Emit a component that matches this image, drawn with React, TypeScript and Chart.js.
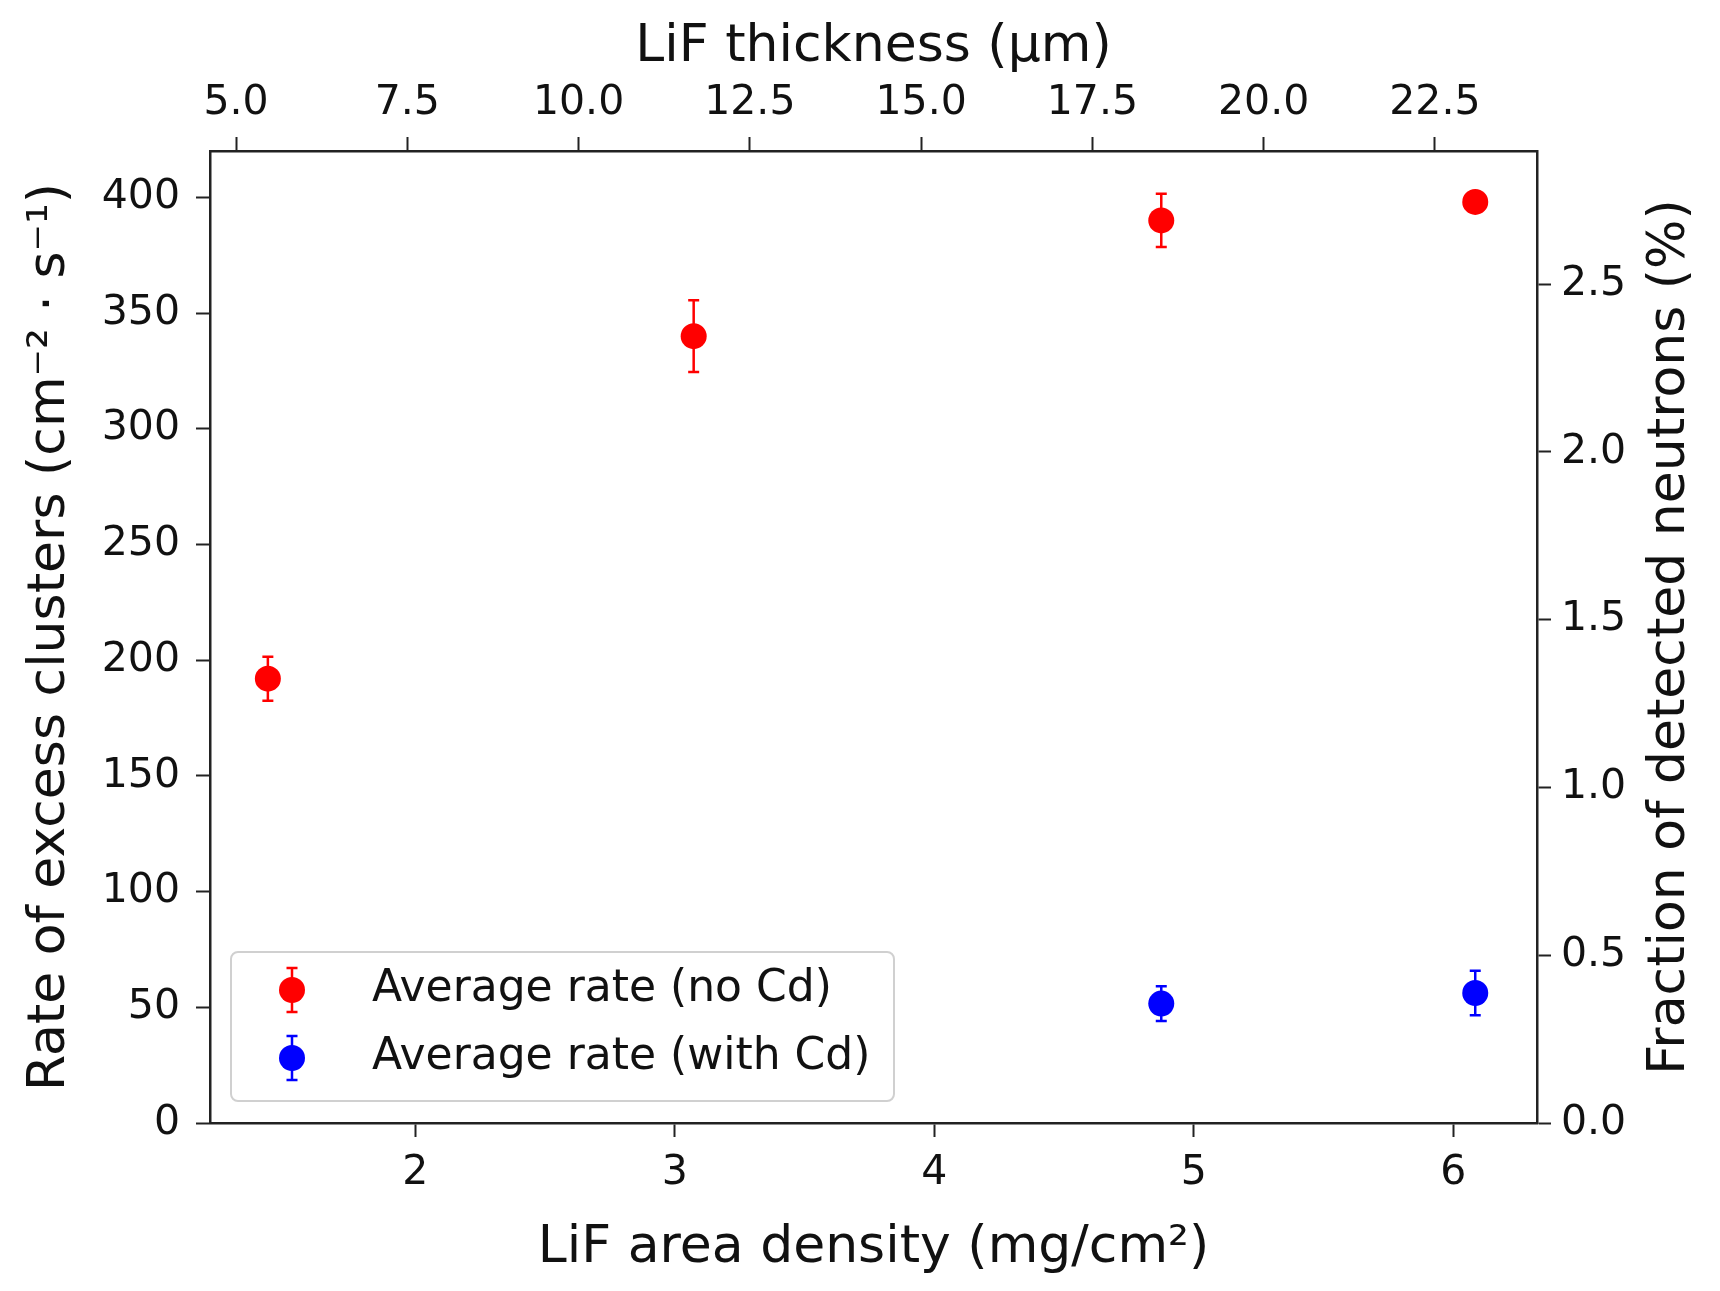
import { useEffect, useRef } from "react"
import { Chart, registerables } from "chart.js"

// Register Chart.js components
Chart.register(...registerables)

const FONT = "'DejaVu Sans', sans-serif"
const TEXT = "#111111"
const AXIS = "#222222"

// LiF area density (mg/cm2) of the four samples
const densities = [1.432, 3.073, 4.875, 6.085]
// Average rate without Cd (cm-2 s-1) and its error
const rateNoCd = [192, 340, 390, 398]
const errNoCd = [9.5, 15.5, 11.5, 0]
// Average rate with Cd, only the two thickest samples
const densitiesCd = [4.875, 6.085]
const rateCd = [51.6, 56.2]
const errCd = [7.5, 9.6]

const seriesLabels = ["Average rate (no Cd)", "Average rate (with Cd)"]
const seriesColors = ["#ff0000", "#0000ff"]

// Axis ranges and ticks
const densityRange = [1.209, 6.323]
const thicknessRange = [4.62, 23.99]
const rateMax = 420
const ratePerPercent = 145
const densityTicks = [2, 3, 4, 5, 6]
const thicknessTicks = [5, 7.5, 10, 12.5, 15, 17.5, 20, 22.5]
const rateTicks = [0, 50, 100, 150, 200, 250, 300, 350, 400]
const fractionTicks = [0, 0.5, 1, 1.5, 2, 2.5]

const errorSets = [errNoCd, errCd]

// Error bars drawn under the markers
const errorBars = {
  id: "errorBars",
  beforeDatasetsDraw(chart: any) {
    const { ctx } = chart
    const xs = chart.scales.x
    const ys = chart.scales.y
    chart.data.datasets.forEach((ds: any, i: number) => {
      const errs = errorSets[i]
      ds.data.forEach((p: any, j: number) => {
        const e = errs[j]
        if (!e) return
        const px = xs.getPixelForValue(p.x)
        const top = ys.getPixelForValue(p.y + e)
        const bot = ys.getPixelForValue(p.y - e)
        ctx.save()
        ctx.strokeStyle = seriesColors[i]
        ctx.lineWidth = 2.5
        ctx.beginPath()
        ctx.moveTo(px, top)
        ctx.lineTo(px, bot)
        ctx.moveTo(px - 5.5, top)
        ctx.lineTo(px + 5.5, top)
        ctx.moveTo(px - 5.5, bot)
        ctx.lineTo(px + 5.5, bot)
        ctx.stroke()
        ctx.restore()
      })
    })
  },
}

// Legend box in the lower left and the right axis title (reads bottom to top)
const extras = {
  id: "extras",
  afterDraw(chart: any) {
    const { ctx, chartArea } = chart
    ctx.save()

    // legend frame
    ctx.beginPath()
    ctx.roundRect(231, 952, 663, 149, 7)
    ctx.fillStyle = "rgba(255,255,255,0.8)"
    ctx.fill()
    ctx.strokeStyle = "#d0d0d0"
    ctx.lineWidth = 2
    ctx.stroke()

    seriesLabels.forEach((label, i) => {
      const cy = 990 + i * 68
      const cx = 292
      ctx.strokeStyle = seriesColors[i]
      ctx.lineWidth = 2.5
      ctx.beginPath()
      ctx.moveTo(cx, cy - 22)
      ctx.lineTo(cx, cy + 22)
      ctx.moveTo(cx - 5.5, cy - 22)
      ctx.lineTo(cx + 5.5, cy - 22)
      ctx.moveTo(cx - 5.5, cy + 22)
      ctx.lineTo(cx + 5.5, cy + 22)
      ctx.stroke()
      ctx.fillStyle = seriesColors[i]
      ctx.beginPath()
      ctx.arc(cx, cy, 13, 0, Math.PI * 2)
      ctx.fill()
      ctx.fillStyle = TEXT
      ctx.font = `44px ${FONT}`
      ctx.textAlign = "left"
      ctx.textBaseline = "middle"
      ctx.fillText(label, 372, cy)
    })

    // right axis title
    ctx.translate(1670, (chartArea.top + chartArea.bottom) / 2)
    ctx.rotate(-Math.PI / 2)
    ctx.fillStyle = TEXT
    ctx.font = `52px ${FONT}`
    ctx.textAlign = "center"
    ctx.textBaseline = "middle"
    ctx.fillText("Fraction of detected neutrons (%)", 0, 0)
    ctx.restore()
  },
}

function axisStyle(padding: number, values: number[], digits: number) {
  return {
    bounds: "data",
    afterBuildTicks: (s: any) => {
      s.ticks = values.map((v) => ({ value: v }))
    },
    grid: {
      drawOnChartArea: false,
      drawTicks: true,
      tickLength: 14,
      tickWidth: 2,
      tickColor: AXIS,
    },
    border: { display: true, color: AXIS, width: 2.5 },
    ticks: {
      color: TEXT,
      font: { family: FONT, size: 41 },
      padding,
      callback: (v: any) => Number(v).toFixed(digits),
    },
  }
}

export default function App() {
  const canvasRef = useRef<HTMLCanvasElement>(null)
  const chartRef = useRef<Chart | null>(null)

  useEffect(() => {
    if (!canvasRef.current) return
    if (chartRef.current) chartRef.current.destroy()
    const ctx = canvasRef.current.getContext("2d")
    if (!ctx) return

    const titleFont = { family: FONT, size: 52 }

    chartRef.current = new Chart(ctx, {
      type: "scatter",
      data: {
        datasets: [
          {
            label: seriesLabels[0],
            data: densities.map((d, i) => ({ x: d, y: rateNoCd[i] })),
            backgroundColor: seriesColors[0],
            borderWidth: 0,
            pointRadius: 13,
            pointHoverRadius: 13,
          },
          {
            label: seriesLabels[1],
            data: densitiesCd.map((d, i) => ({ x: d, y: rateCd[i] })),
            backgroundColor: seriesColors[1],
            borderWidth: 0,
            pointRadius: 13,
            pointHoverRadius: 13,
          },
        ],
      },
      options: {
        responsive: false,
        animation: false,
        devicePixelRatio: 1,
        layout: { padding: 0 },
        plugins: {
          legend: { display: false },
          tooltip: { enabled: false },
        },
        scales: {
          x: {
            type: "linear",
            position: "bottom",
            min: densityRange[0],
            max: densityRange[1],
            ...axisStyle(12, densityTicks, 0),
            title: {
              display: true,
              text: "LiF area density (mg/cm²)",
              color: TEXT,
              font: titleFont,
              padding: { top: 0, bottom: 11 },
            },
            afterFit: (s: any) => {
              s.height = 168
            },
          },
          x2: {
            type: "linear",
            position: "top",
            min: thicknessRange[0],
            max: thicknessRange[1],
            ...axisStyle(9, thicknessTicks, 1),
            title: {
              display: true,
              text: "LiF thickness (μm)",
              color: TEXT,
              font: titleFont,
              padding: { top: 16, bottom: 0 },
            },
            afterFit: (s: any) => {
              s.height = 151
            },
          },
          y: {
            type: "linear",
            position: "left",
            min: 0,
            max: rateMax,
            ...axisStyle(16, rateTicks, 0),
            title: {
              display: true,
              text: "Rate of excess clusters (cm⁻² · s⁻¹)",
              color: TEXT,
              font: titleFont,
              padding: { top: 19, bottom: 0 },
            },
            afterFit: (s: any) => {
              s.width = 210
            },
          },
          y2: {
            type: "linear",
            position: "right",
            min: 0,
            max: rateMax / ratePerPercent,
            ...axisStyle(10, fractionTicks, 1),
            afterFit: (s: any) => {
              s.width = 183
            },
          },
        },
      },
      plugins: [errorBars, extras],
    } as any)

    return () => {
      if (chartRef.current) {
        chartRef.current.destroy()
        chartRef.current = null
      }
    }
  }, [])

  return (
    <div style={{ position: "absolute", left: 0, top: 0, width: 1720, height: 1291, background: "#fff" }}>
      <canvas ref={canvasRef} width={1720} height={1291}></canvas>
    </div>
  )
}
